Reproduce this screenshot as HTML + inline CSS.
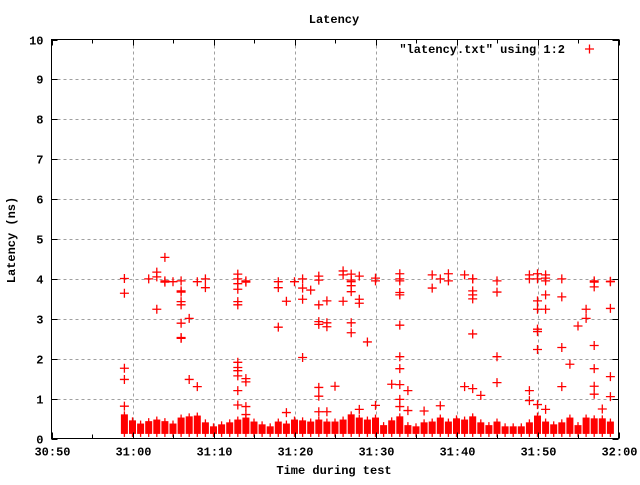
<!DOCTYPE html>
<html><head><meta charset="utf-8"><style>
body{margin:0;background:#fff}
svg text{font-family:"Liberation Mono",monospace;font-size:12px;font-weight:bold;fill:#000}
</style></head><body>
<svg id="chart" width="640" height="480" xmlns="http://www.w3.org/2000/svg">
<rect width="640" height="480" fill="#fff"/>
<text x="334" y="23" text-anchor="middle">Latency</text>
<text transform="translate(15,240) rotate(-90)" text-anchor="middle">Latency (ns)</text>
<text x="334" y="474" text-anchor="middle">Time during test</text>
<g id="grid"></g><g id="marks"></g><g id="axes"></g>
<text x="565" y="53" text-anchor="end">"latency.txt" using 1:2</text>
<path d="M585 49h9M589.5 44.5v9" stroke="#f00" stroke-width="1.3"/>
</svg>
<script>
const xTickLabels=["30:50","31:00","31:10","31:20","31:30","31:40","31:50","32:00"];
const yTickLabels=[0,1,2,3,4,5,6,7,8,9,10];
const bandT=[9,10,11,12,13,14,15,16,17,18,19,20,21,22,23,24,25,26,27,28,29,30,31,32,33,34,35,36,37,38,39,40,41,42,43,44,45,46,47,48,49,50,51,52,53,54,55,56,57,58,59,60,61,62,63,64,65,66,67,68,69];
const bandTop=[.58,.43,.35,.41,.45,.41,.35,.50,.53,.55,.38,.28,.33,.38,.45,.50,.40,.33,.28,.40,.35,.45,.43,.40,.45,.40,.40,.45,.58,.50,.45,.50,.31,.43,.53,.31,.28,.38,.40,.50,.40,.48,.45,.53,.38,.31,.40,.28,.28,.28,.38,.55,.40,.33,.38,.50,.31,.50,.48,.48,.40];
const bandBottom=0.14;
const outT=[9,9,9,9,9,12,13,13,13,14,14,14,15,16,16,16,16,16,16,16,16,17,17,18,18,19,19,23,23,23,23,23,23,23,23,23,23,23,23,24,24,24,24,24,24,28,28,28,29,29,30,31,31,31,31,32,33,33,33,33,33,33,33,33,34,34,34,34,35,36,36,36,37,37,37,37,37,37,37,38,38,38,38,39,40,40,40,42,43,43,43,43,43,43,43,43,43,43,43,44,44,46,47,47,48,48,49,49,51,51,52,52,52,52,52,52,52,53,55,55,55,55,59,59,59,59,60,60,60,60,60,60,60,60,61,61,61,61,61,61,63,63,63,63,64,65,66,66,67,67,67,67,67,67,67,68,69,69,69,69,69];
const outV=[4.01,3.64,1.76,1.48,.81,4.0,4.17,4.05,3.24,4.54,3.95,3.92,3.93,3.95,3.7,3.67,3.43,3.35,2.89,2.53,2.51,3.01,1.48,3.93,1.30,4.0,3.78,4.12,4.0,3.88,3.74,3.43,3.35,1.91,1.78,1.70,1.57,1.2,.84,3.95,3.92,1.5,1.42,.8,.6,3.93,3.78,2.79,3.44,.65,3.93,4.0,3.77,3.49,2.03,3.72,4.07,3.97,3.35,2.93,2.86,1.28,1.06,.67,3.45,2.9,2.8,.67,1.31,4.2,4.1,3.44,4.12,3.97,3.93,3.83,3.68,2.9,2.65,.73,4.07,3.49,3.39,2.42,.83,4.02,3.95,1.36,4.0,4.13,3.95,3.66,3.6,2.84,2.05,1.75,1.35,.98,.8,.7,1.2,.69,4.1,3.77,.82,4.0,3.95,4.13,1.3,4.1,4.0,4.0,3.7,3.6,3.5,2.62,1.25,1.08,2.05,3.95,3.67,1.4,1.2,4.1,4.0,.95,.85,4.13,4.0,3.45,3.24,2.74,2.68,2.23,.73,4.1,4.02,3.95,3.6,3.24,1.3,4.0,3.55,2.28,1.86,2.82,3.01,3.24,1.31,3.95,3.92,3.8,2.33,1.75,1.11,.74,3.94,3.93,3.26,1.55,1.05,.65];
const L=51.5,R=618.5,T=39.5,B=438.5;
function xs(t){return L+(t)/70*(R-L);}
function ys(v){return B-v/10*(B-T);}
const NS="http://www.w3.org/2000/svg";
function mk(tag,attrs,parent){const e=document.createElementNS(NS,tag);for(const k in attrs)e.setAttribute(k,attrs[k]);parent.appendChild(e);return e;}
const grid=document.getElementById('grid'),marks=document.getElementById('marks'),axes=document.getElementById('axes');
// grid + ticks
xTickLabels.forEach((lab,i)=>{const x=Math.round(xs(i*10))+0.5;
 if(i>0&&i<xTickLabels.length-1){const g=mk('line',{x1:x,x2:x,y1:T,y2:B,stroke:'#a0a0a0','stroke-dasharray':'3,3'},grid);}
 const tk=mk('path',{d:`M${x} ${B}v-6M${x} ${T}v6`,stroke:'#000'},axes);
 if(i<xTickLabels.length-1){const mx=Math.round(xs(i*10+5))+0.5;const m=mk('path',{d:`M${mx} ${B}v-4M${mx} ${T}v4`,stroke:'#000'},axes);}
 const t=mk('text',{x:x,y:B+17,'text-anchor':'middle'},axes);t.textContent=lab;
 });
yTickLabels.forEach(v=>{const y=Math.round(ys(v))+0.5;
 if(v>0&&v<10){const g=mk('line',{x1:L,x2:R,y1:y,y2:y,stroke:'#a0a0a0','stroke-dasharray':'3,3'},grid);}
 const tk=mk('path',{d:`M${L} ${y}h6M${R} ${y}h-6`,stroke:'#000'},axes);
 const t=mk('text',{x:L-8,y:y+4,'text-anchor':'end'},axes);t.textContent=v;
 });
const fr=mk('rect',{x:L,y:T,width:R-L,height:B-T,fill:'none',stroke:'#000'},axes);

// band columns
bandT.forEach((t,i)=>{const x=xs(t),yt=ys(bandTop[i]),yb=ys(bandBottom);
 const r=mk('rect',{x:x-3.5,y:yt-1,width:7,height:yb-yt+2,fill:'#f00'},marks);
 
 const l=mk('line',{x1:x,x2:x,y1:yt-4,y2:yb+4,stroke:'#f00','stroke-width':1.3},marks);
 });
// outlier points
outT.forEach((t,i)=>{const x=xs(t),y=ys(outV[i]);
 const p=mk('path',{d:`M${x-4.5} ${y}h9M${x} ${y-4.5}v9`,stroke:'#f00','stroke-width':1.3},marks);
 });
</script>
</body></html>
